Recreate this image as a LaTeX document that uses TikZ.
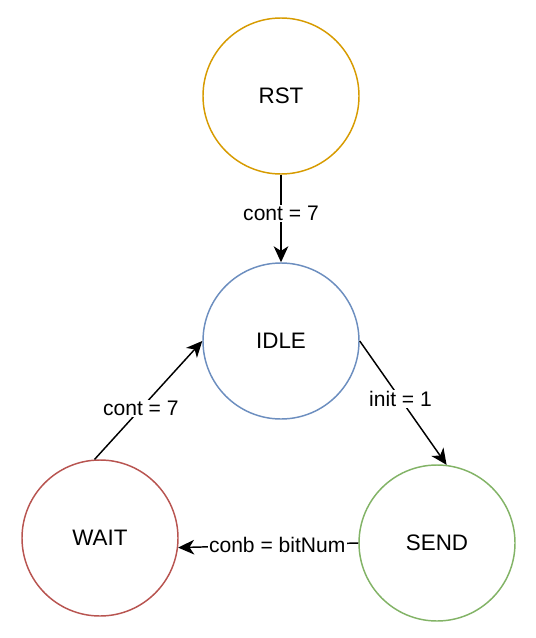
\documentclass[tikz,border=0pt]{standalone}
\usepackage{fontspec}
\setmainfont{Liberation Sans}
\usepackage{tikz}
\usetikzlibrary{arrows.meta, positioning}
\definecolor{corLaranja}{RGB}{215, 155, 0}
\definecolor{corAzul}{RGB}{108, 142, 191}
\definecolor{corVerde}{RGB}{130, 179, 102}
\definecolor{corVermelho}{RGB}{184, 84, 80}

\begin{document}
\begin{tikzpicture}[
    x=0.75pt, y=-0.75pt,
    estado/.style={
        draw, circle, fill=white, line width=1.1pt,
        minimum size=117pt, inner sep=0pt,
        font=\fontsize{16.8}{20}\selectfont
    },
    trans/.style={-{Stealth[length=12pt, width=11pt, inset=3.5pt]}, line width=1.1pt},
    lbl/.style={fill=white, inner sep=1pt, font=\fontsize{15.8}{19}\selectfont}
]
\useasboundingbox (0,0) rectangle (535,638);

\node[estado, draw=corLaranja] (RST) at (281,96) {RST};
\node[estado, draw=corAzul] (IDLE) at (281,341) {IDLE};
\node[estado, draw=corVermelho] (WAIT) at (100,538) {WAIT};
\node[estado, draw=corVerde] (SEND) at (437,543) {SEND};

\draw[trans] (RST.south) -- node[lbl, pos=0.44] {cont = 7} (IDLE.north);
\draw[trans] (WAIT.94) -- node[lbl, pos=0.43] {cont = 7} (IDLE.west);
\draw[trans] (IDLE.east) -- node[lbl, pos=0.47] {init = 1} (SEND.83);
\draw[trans] (SEND.west) -- node[lbl, pos=0.45] {conb = bitNum} (WAIT.-7);

\end{tikzpicture}
\end{document}
